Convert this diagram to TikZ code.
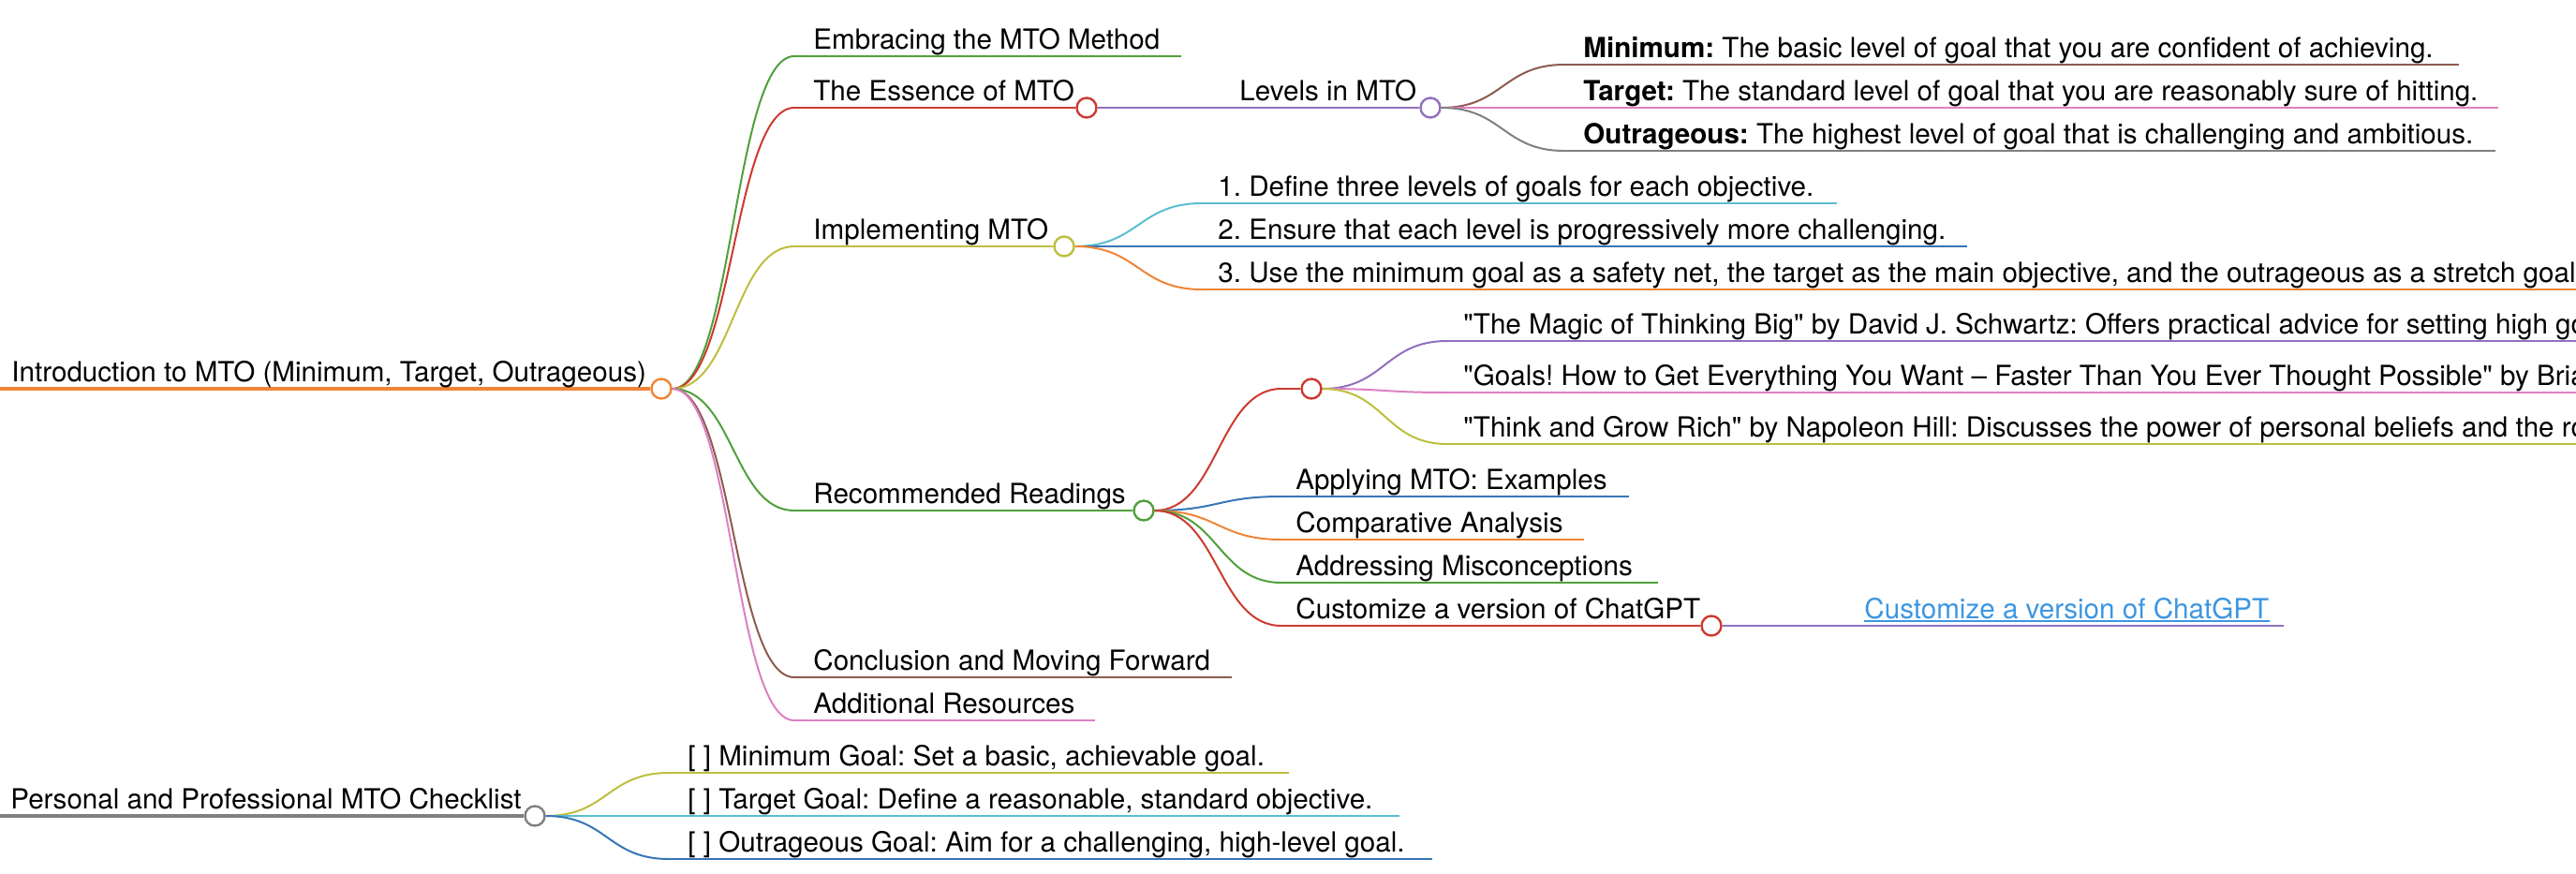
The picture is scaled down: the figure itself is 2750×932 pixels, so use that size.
\documentclass[tikz,border=0pt]{standalone}
\usepackage{fontspec}
\setmainfont{TeX Gyre Heros}[Ligatures=TeXOff]
\usetikzlibrary{calc}
\definecolor{cOrange}{RGB}{240,133,55}
\definecolor{cGreen}{RGB}{80,160,60}
\definecolor{cRed}{RGB}{205,58,48}
\definecolor{cPurple}{RGB}{145,112,190}
\definecolor{cBrown}{RGB}{140,92,78}
\definecolor{cPink}{RGB}{220,128,195}
\definecolor{cGrey}{RGB}{128,128,128}
\definecolor{cOlive}{RGB}{190,190,62}
\definecolor{cCyan}{RGB}{90,190,208}
\definecolor{cBlue}{RGB}{55,118,182}
\definecolor{cLink}{RGB}{60,150,225}
\pgfdeclarelayer{bg}
\pgfsetlayers{bg,main}
\frenchspacing
\newcommand\mmlink[3]{\draw[#3] let \p1=(#1), \p2=(#2) in (\p1) .. controls ({(\x1+\x2)/2},\y1) and ({(\x1+\x2)/2},\y2) .. (\p2);}
\begin{document}
\begin{tikzpicture}[x=0.5pt,y=-0.5pt,
  lbl/.style={anchor=base west, inner sep=0pt, font=\fontsize{14.8pt}{17pt}\selectfont},
  circ/.style={circle, draw=#1, fill=white, line width=1.2pt, minimum size=10.5pt, inner sep=0pt},
  ul/.style={draw=#1, line width=1.2pt},
  lk/.style={draw=#1, line width=1pt},
  rootline/.style={draw=#1, line width=1.8pt}]
\useasboundingbox (0,0) rectangle (2750,932);
\clip (0,0) rectangle (2750,932);

% circles
\node[circ=cOrange] (cRoot) at (706,415) {};
\node[circ=cRed] (cEss) at (1160,115) {};
\node[circ=cPurple] (cLev) at (1527,115) {};
\node[circ=cOlive] (cImp) at (1136,263) {};
\node[circ=cGreen] (cRec) at (1221,545) {};
\node[circ=cRed] (cBook) at (1400,415) {};
\node[circ=cRed] (cCus) at (1827,668) {};
\node[circ=cGrey] (cPer) at (571,871) {};

% texts
\node[lbl] (tRoot) at (12,407) {Introduction to MTO (Minimum, Target, Outrageous)};
\node[lbl] (tEmb) at (868,52) {Embracing the MTO Method};
\node[lbl] (tEss) at (868,107) {The Essence of MTO};
\node[lbl] (tLev) at (1323,107) {Levels in MTO};
\node[lbl] (tMin) at (1690,61) {\textbf{Minimum:} The basic level of goal that you are confident of achieving.};
\node[lbl] (tTar) at (1690,107) {\textbf{Target:} The standard level of goal that you are reasonably sure of hitting.};
\node[lbl] (tOut) at (1690,153) {\textbf{Outrageous:} The highest level of goal that is challenging and ambitious.};
\node[lbl] (tImp) at (868,255) {Implementing MTO};
\node[lbl] (tI1) at (1300,209) {1. Define three levels of goals for each objective.};
\node[lbl] (tI2) at (1300,255) {2. Ensure that each level is progressively more challenging.};
\node[lbl] (tI3) at (1300,301) {3. Use the minimum goal as a safety net, the target as the main objective, and the outrageous as a stretch goal.};
\node[lbl] (tRec) at (868,537) {Recommended Readings};
\node[lbl] (tB1) at (1562,356) {"The Magic of Thinking Big" by David J. Schwartz: Offers practical advice for setting high goals};
\node[lbl] (tB2) at (1562,411) {"Goals! How to Get Everything You Want – Faster Than You Ever Thought Possible" by Brian Tracy};
\node[lbl] (tB3) at (1562,466) {"Think and Grow Rich" by Napoleon Hill: Discusses the power of personal beliefs and the role};
\node[lbl] (tApp) at (1383,522) {Applying MTO: Examples};
\node[lbl] (tCmp) at (1383,568) {Comparative Analysis};
\node[lbl] (tAdr) at (1383,614) {Addressing Misconceptions};
\node[lbl] (tCus) at (1383,660) {Customize a version of ChatGPT};
\node[lbl, text=cLink] (tLink) at (1990,660) {Customize a version of ChatGPT};
\node[lbl] (tCon) at (868,715) {Conclusion and Moving Forward};
\node[lbl] (tAdd) at (868,761) {Additional Resources};
\node[lbl] (tPer) at (11,863) {Personal and Professional MTO Checklist};
\node[lbl] (tPM) at (734,817) {[ ] Minimum Goal: Set a basic, achievable goal.};
\node[lbl] (tPT) at (734,863) {[ ] Target Goal: Define a reasonable, standard objective.};
\node[lbl] (tPO) at (734,909) {[ ] Outrageous Goal: Aim for a challenging, high-level goal.};

% coordinates
\coordinate (rootStart) at (0,415);
\coordinate (sEmb) at (848,60);  \coordinate (eEmb) at (1261,60);
\coordinate (sEss) at (848,115);
\coordinate (sImp) at (848,263);
\coordinate (sRec) at (848,545);
\coordinate (sCon) at (848,723); \coordinate (eCon) at (1315,723);
\coordinate (sAdd) at (848,769); \coordinate (eAdd) at (1169,769);
\coordinate (sMin) at (1670,69);  \coordinate (eMin) at (2625,69);
\coordinate (sTar) at (1670,115); \coordinate (eTar) at (2667,115);
\coordinate (sOut) at (1670,161); \coordinate (eOut) at (2664,161);
\coordinate (sI1) at (1283,217); \coordinate (eI1) at (1961,217);
\coordinate (sI2) at (1283,263); \coordinate (eI2) at (2100,263);
\coordinate (sI3) at (1283,309); \coordinate (eI3) at (2760,309);
\coordinate (sBk) at (1368,415);
\coordinate (sApp) at (1368,530); \coordinate (eApp) at (1739,530);
\coordinate (sCmp) at (1368,576); \coordinate (eCmp) at (1691,576);
\coordinate (sAdr) at (1368,622); \coordinate (eAdr) at (1770,622);
\coordinate (sCus) at (1368,668);
\coordinate (sB1) at (1545,364); \coordinate (eB1) at (2760,364);
\coordinate (sB2) at (1545,419); \coordinate (eB2) at (2760,419);
\coordinate (sB3) at (1545,474); \coordinate (eB3) at (2760,474);
\coordinate (eLk) at (2438,668);
\coordinate (perStart) at (0,871);
\coordinate (sPM) at (714,825); \coordinate (ePM) at (1376,825);
\coordinate (sPT) at (714,871); \coordinate (ePT) at (1494,871);
\coordinate (sPO) at (714,917); \coordinate (ePO) at (1529,917);

\begin{pgfonlayer}{bg}
% root
\draw[rootline=cOrange] (rootStart) -- (cRoot.west);
\mmlink{cRoot.east}{sEmb}{lk=cGreen}   \draw[ul=cGreen] (sEmb) -- (eEmb);
\mmlink{cRoot.east}{sEss}{lk=cRed}     \draw[ul=cRed] (sEss) -- (cEss.west);
\mmlink{cRoot.east}{sImp}{lk=cOlive}   \draw[ul=cOlive] (sImp) -- (cImp.west);
\mmlink{cRoot.east}{sRec}{lk=cGreen}   \draw[ul=cGreen] (sRec) -- (cRec.west);
\mmlink{cRoot.east}{sCon}{lk=cBrown}   \draw[ul=cBrown] (sCon) -- (eCon);
\mmlink{cRoot.east}{sAdd}{lk=cPink}    \draw[ul=cPink] (sAdd) -- (eAdd);
% essence -> levels
\draw[ul=cPurple] (cEss.east) -- (cLev.west);
\mmlink{cLev.east}{sMin}{lk=cBrown}  \draw[ul=cBrown] (sMin) -- (eMin);
\mmlink{cLev.east}{sTar}{lk=cPink}   \draw[ul=cPink] (sTar) -- (eTar);
\mmlink{cLev.east}{sOut}{lk=cGrey}   \draw[ul=cGrey] (sOut) -- (eOut);
% implementing
\mmlink{cImp.east}{sI1}{lk=cCyan}    \draw[ul=cCyan] (sI1) -- (eI1);
\mmlink{cImp.east}{sI2}{lk=cBlue}    \draw[ul=cBlue] (sI2) -- (eI2);
\mmlink{cImp.east}{sI3}{lk=cOrange}  \draw[ul=cOrange] (sI3) -- (eI3);
% recommended
\mmlink{cRec.east}{sBk}{lk=cRed}     \draw[ul=cRed] (sBk) -- (cBook.west);
\mmlink{cRec.east}{sApp}{lk=cBlue}   \draw[ul=cBlue] (sApp) -- (eApp);
\mmlink{cRec.east}{sCmp}{lk=cOrange} \draw[ul=cOrange] (sCmp) -- (eCmp);
\mmlink{cRec.east}{sAdr}{lk=cGreen}  \draw[ul=cGreen] (sAdr) -- (eAdr);
\mmlink{cRec.east}{sCus}{lk=cRed}    \draw[ul=cRed] (sCus) -- (cCus.west);
% books
\mmlink{cBook.east}{sB1}{lk=cPurple} \draw[ul=cPurple] (sB1) -- (eB1);
\mmlink{cBook.east}{sB2}{lk=cPink}   \draw[ul=cPink] (sB2) -- (eB2);
\mmlink{cBook.east}{sB3}{lk=cOlive}  \draw[ul=cOlive] (sB3) -- (eB3);
% customize link
\draw[ul=cPurple] (cCus.east) -- (eLk);
\draw[cLink, line width=0.9pt] ([yshift=-1.6pt]tLink.base west) -- ([yshift=-1.6pt]tLink.base east);
% personal checklist
\draw[rootline=cGrey] (perStart) -- (cPer.west);
\mmlink{cPer.east}{sPM}{lk=cOlive}   \draw[ul=cOlive] (sPM) -- (ePM);
\mmlink{cPer.east}{sPT}{lk=cCyan}    \draw[ul=cCyan] (sPT) -- (ePT);
\mmlink{cPer.east}{sPO}{lk=cBlue}    \draw[ul=cBlue] (sPO) -- (ePO);
\end{pgfonlayer}
\end{tikzpicture}
\end{document}
